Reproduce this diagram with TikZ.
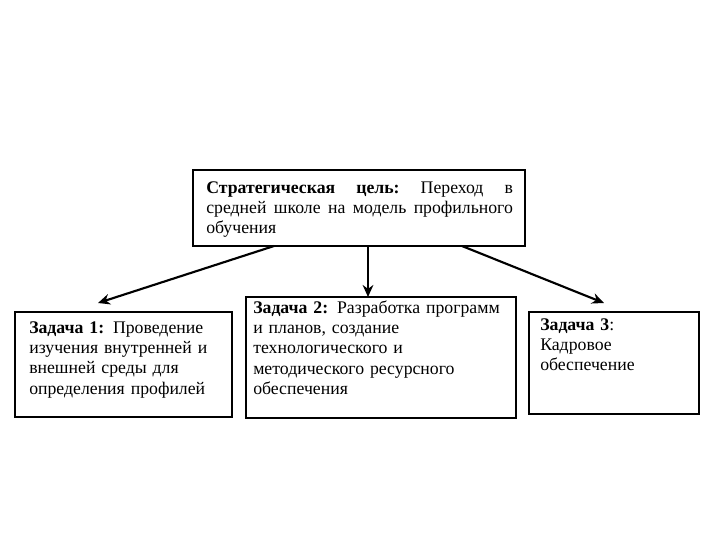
\documentclass[tikz,border=0pt]{standalone}
\usepackage{fontspec}
\setmainfont{Liberation Serif}
\usetikzlibrary{arrows.meta}
\begin{document}
\begin{tikzpicture}[x=0.75pt,y=-0.75pt,
  box/.style={draw=black, line width=2pt, inner sep=0pt, fill=white},
  txt/.style={anchor=base west, inner sep=0pt, align=left, text width=#1,
    font=\fontsize{13.3}{15.3}\selectfont},
  arr/.style={line width=1.6pt, -{Stealth[length=9pt,width=8pt]}}]
\useasboundingbox (0,0) rectangle (720,540);
\fill[white] (0,0) rectangle (720,540);
% boxes
\node[box, minimum width=249pt, minimum height=57pt] (top) at (359,208) {};
\node[box, minimum width=162.75pt, minimum height=78.75pt] (t1) at (123.5,364.5) {};
\node[box, minimum width=202.5pt, minimum height=90.75pt] (t2) at (381,357.5) {};
\node[box, minimum width=127.5pt, minimum height=76.5pt] (t3) at (614,363) {};
% texts
\node[txt=240pt] (toptext) at (206,193)
  {\leavevmode\hbox to 230pt{\textbf{Стратегическая}\hfill\textbf{цель:}\hfill Переход\hfill в}\\
   \leavevmode\hbox to 230pt{средней\hfill школе\hfill на\hfill модель\hfill профильного}\\
   обучения};
\node[txt=160pt] (t1text) at (29,333)
  {\textbf{Задача 1:} Проведение\\изучения внутренней и\\внешней среды для\\определения профилей};
\node[txt=200pt] (t2text) at (253,313)
  {\textbf{Задача 2:} Разработка программ\\и планов, создание\\технологического и\\методического ресурсного\\обеспечения};
\node[txt=120pt] (t3text) at (540,330)
  {\textbf{Задача 3}:\\Кадровое\\обеспечение};
% connectors
\coordinate (s1) at (274,246);
\coordinate (s2) at (368,246);
\coordinate (s3) at (462,246);
\coordinate (e1) at (98,303);
\coordinate (e2) at (368,297);
\coordinate (e3) at (604,303);
\draw[arr] (s1) -- (e1);
\draw[arr] (s2) -- (e2);
\draw[arr] (s3) -- (e3);
\end{tikzpicture}
\end{document}
